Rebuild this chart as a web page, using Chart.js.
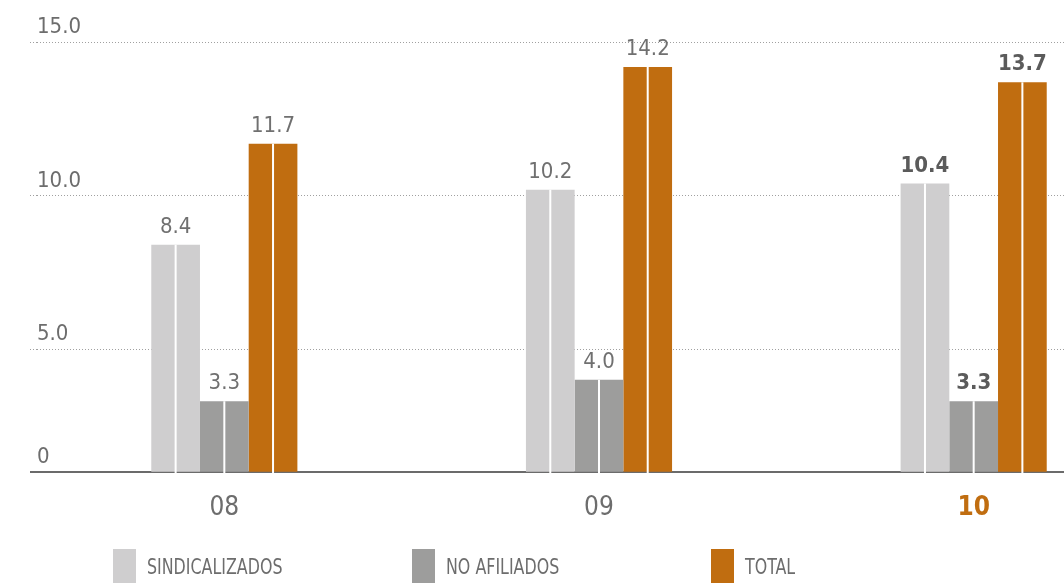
<!DOCTYPE html>
<html>
<head>
<meta charset="utf-8">
<script src="https://cdn.jsdelivr.net/npm/chart.js@4.4.1/dist/chart.umd.min.js"></script>
<style>
  html, body { margin: 0; padding: 0; background: #fff; overflow: hidden; width: 1064px; height: 583px; }
  #wrap { position: absolute; left: 0; top: 0; width: 1161px; height: 583px; }
  #legend { position: absolute; left: 0; top: 549px; width: 1064px; height: 40px;
    font-family: 'Liberation Sans Narrow', 'DejaVu Sans Condensed', sans-serif; font-size: 21px; color: #6d6d6d; }
  .item { position: absolute; top: 0; height: 40px; }
  .box { position: absolute; left: 0; top: 0; width: 23px; height: 40px; }
  .txt { position: absolute; left: 34px; top: 6px; line-height: 24px; white-space: nowrap;
    transform: scaleX(0.84); transform-origin: left center; }
</style>
</head>
<body>
<div id="wrap"><canvas id="chart" width="1161" height="583"></canvas></div>
<div id="legend"></div>
<script>
const years = ['08', '09', '10'];
const seriesNames = ['SINDICALIZADOS', 'NO AFILIADOS', 'TOTAL'];
const sindicalizados = [8.4, 10.2, 10.4];
const noAfiliados = [3.3, 4.0, 3.3];
const total = [11.7, 14.2, 13.7];
const seriesColors = ['#cfcecf', '#9d9d9c', '#c06d10'];

// the axis baseline of the original sits at 1, labelled "0"
const yTicks = [1, 5, 10, 15];
const yTickLabels = ['0', '5.0', '10.0', '15.0'];
const highlight = 2;

const fontFamily = "'Liberation Sans Narrow', 'DejaVu Sans Condensed', sans-serif";
const textGray = '#6d6d6d';

// white split line in each bar + value labels
const barDecor = {
    id: 'barDecor',
    afterDatasetsDraw(chart) {
        const ctx = chart.ctx;
        chart.data.datasets.forEach((ds, di) => {
            chart.getDatasetMeta(di).data.forEach((bar, i) => {
                ctx.save();
                ctx.fillStyle = '#fff';
                ctx.fillRect(bar.x - 1, bar.y, 2, bar.base - bar.y);
                const bold = i === highlight;
                ctx.font = (bold ? 'bold ' : '') + '22px ' + fontFamily;
                ctx.fillStyle = bold ? '#5b5b5b' : '#707070';
                ctx.textAlign = 'center';
                ctx.textBaseline = 'alphabetic';
                ctx.fillText(ds.data[i].toFixed(1), bar.x, bar.y - 12);
                ctx.restore();
            });
        });
    }
};

const seriesData = [sindicalizados, noAfiliados, total];

new Chart(document.getElementById('chart').getContext('2d'), {
    type: 'bar',
    data: {
        labels: years,
        datasets: seriesNames.map((name, i) => ({
            label: name,
            data: seriesData[i],
            backgroundColor: seriesColors[i],
            borderWidth: 0,
            categoryPercentage: 0.39,
            barPercentage: 1.0
        }))
    },
    options: {
        responsive: false,
        animation: false,
        devicePixelRatio: 1,
        layout: { padding: { left: 30, top: 21, right: 0, bottom: 38 } },
        plugins: { legend: { display: false }, tooltip: { enabled: false } },
        scales: {
            x: {
                grid: { display: false, drawTicks: false },
                border: { display: true, color: '#6b6b6b', width: 2 },
                ticks: {
                    padding: 21,
                    font: c => ({ family: fontFamily, size: 26, weight: c.index === highlight ? 'bold' : 'normal' }),
                    color: c => c.index === highlight ? '#c06d10' : textGray
                }
            },
            y: {
                min: 1,
                max: 15.7,
                beginAtZero: false,
                afterBuildTicks: s => { s.ticks = yTicks.map(v => ({ value: v })); },
                grid: {
                    color: c => c.tick && c.tick.value === yTicks[0] ? 'rgba(0,0,0,0)' : '#a0a0a0',
                    lineWidth: c => c.tick && c.tick.value === yTicks[0] ? 2 : 1,
                    drawTicks: true,
                    tickLength: 7,
                    tickColor: c => c.tick && c.tick.value === yTicks[0] ? '#6b6b6b' : '#a0a0a0',
                    tickBorderDash: c => c.tick && c.tick.value === yTicks[0] ? [] : [1, 2]
                },
                border: { display: false, dash: [1, 2] },
                ticks: {
                    mirror: true,
                    padding: 0,
                    labelOffset: -15,
                    font: { family: fontFamily, size: 22 },
                    color: textGray,
                    callback: v => yTickLabels[yTicks.indexOf(v)]
                }
            }
        }
    },
    plugins: [barDecor]
});

const legend = document.getElementById('legend');
seriesNames.forEach((name, i) => {
    const item = document.createElement('div');
    item.className = 'item';
    item.style.left = (113 + i * 299) + 'px';
    const box = document.createElement('div');
    box.className = 'box';
    box.style.background = seriesColors[i];
    const txt = document.createElement('div');
    txt.className = 'txt';
    txt.textContent = name;
    item.appendChild(box);
    item.appendChild(txt);
    legend.appendChild(item);
});
</script>
</body>
</html>
